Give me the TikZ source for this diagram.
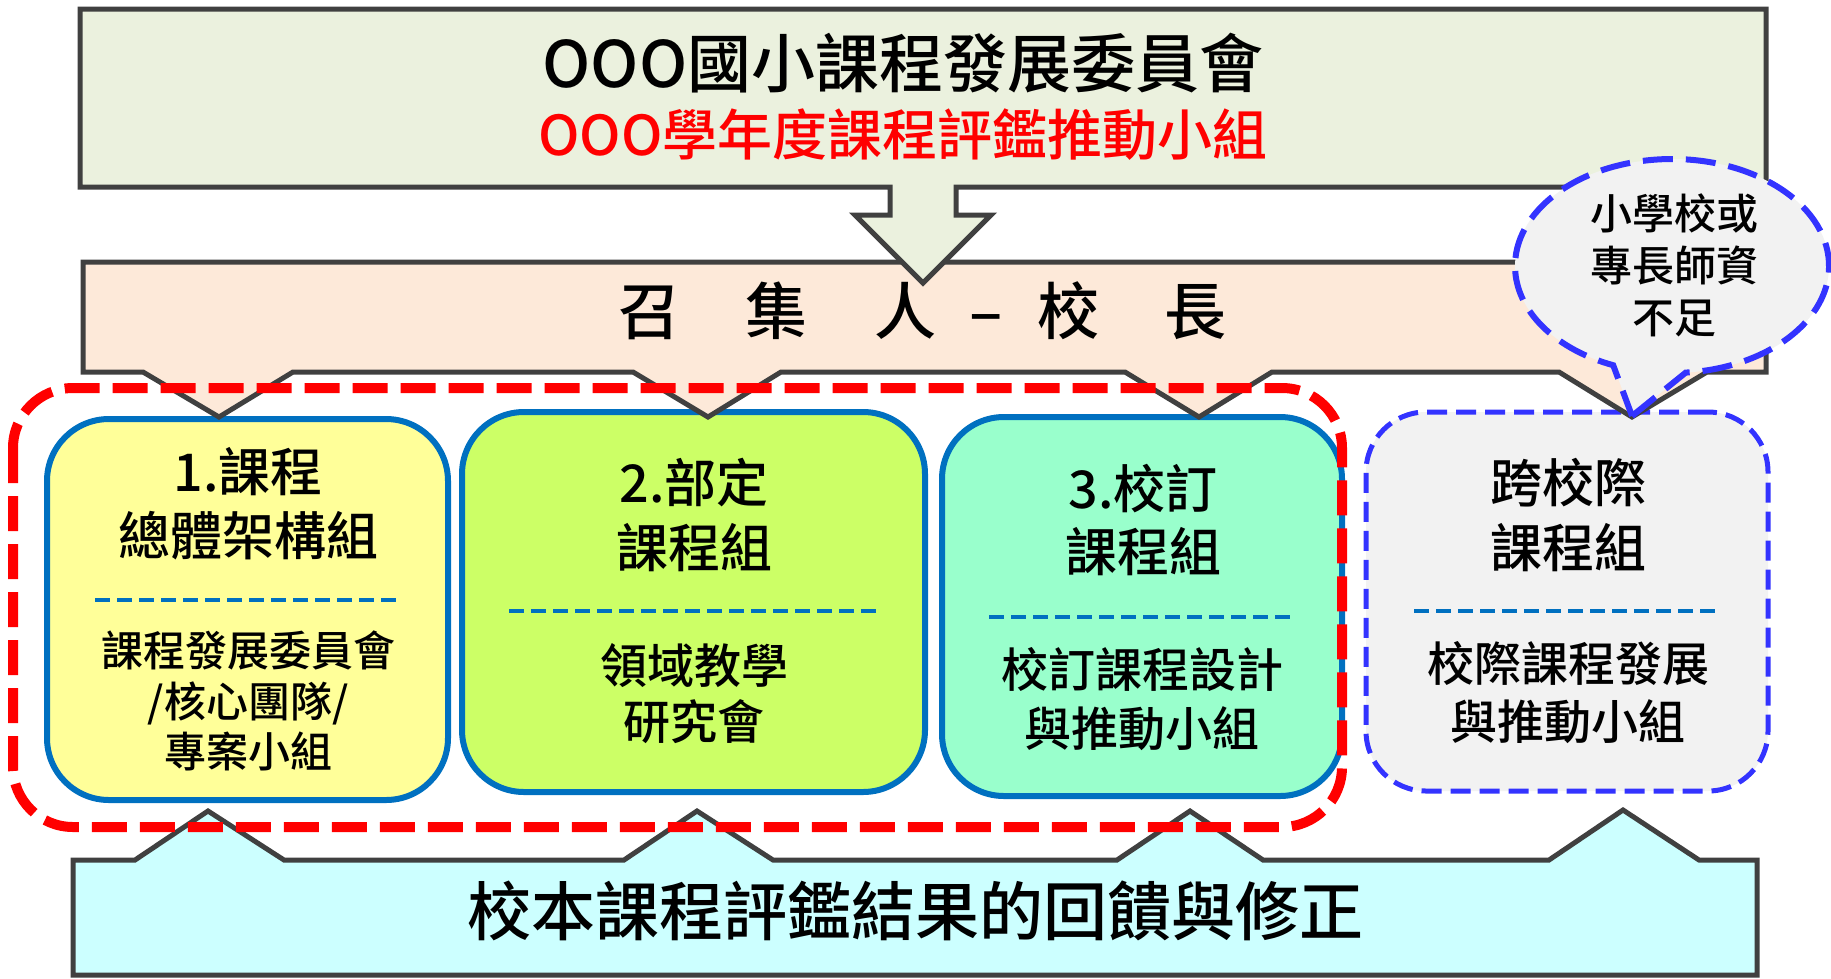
\documentclass[tikz,border=0pt]{standalone}
\usepackage{fontspec}
\setmainfont{Noto Sans CJK TC}[BoldFont={Noto Sans CJK TC Medium}]
\definecolor{fgray}{HTML}{404040}
\definecolor{topfill}{HTML}{EBF1DE}
\definecolor{peach}{HTML}{FDE9D9}
\definecolor{cyanfill}{HTML}{CCFFFF}
\definecolor{gblue}{HTML}{0070C0}
\definecolor{dblue}{HTML}{3333FF}
\definecolor{cfa}{HTML}{FFFF99}
\definecolor{cfb}{HTML}{CCFF66}
\definecolor{cfc}{HTML}{99FFCC}
\definecolor{cfd}{HTML}{F2F2F2}
\newcommand\fsz[2]{\fontsize{#1pt}{#2pt}\selectfont\bfseries}
\begin{document}
\begin{tikzpicture}[x=1pt,y=-1pt,
  frame/.style={draw=fgray,line width=5pt,line join=miter},
  grp/.style={draw=gblue,line width=6pt,rounded corners=62pt,inner sep=0pt},
  grpdash/.style={draw=dblue,line width=5pt,rounded corners=60pt,inner sep=0pt,dash pattern=on 20pt off 9pt},
  sepline/.style={draw=gblue,line width=3.5pt,dash pattern=on 15pt off 7pt},
  reddash/.style={draw=red,line width=10pt,dash pattern=on 35pt off 13pt,rounded corners=60pt},
  bubble/.style={draw=dblue,fill=cfd,line width=6pt,dash pattern=on 30pt off 13pt},
  txt/.style={inner sep=0pt,align=center}]
\useasboundingbox (0,0) rectangle (1831,978);

% group boxes
\node[grp,fill=cfa,minimum width=401pt,minimum height=381pt] (g1) at (247.5,609.5) {};
\node[grp,fill=cfb,minimum width=463pt,minimum height=380pt] (g2) at (693.5,602) {};
\node[grp,fill=cfc,minimum width=400pt,minimum height=379pt] (g3) at (1142,606.5) {};
\node[grpdash,fill=cfd,minimum width=402pt,minimum height=379pt] (g4) at (1567,601.5) {};

% separators
\draw[sepline] (95,600) -- (400,600);
\draw[sepline] (509,611) -- (878,611);
\draw[sepline] (989,617) -- (1295,617);
\draw[sepline] (1414,611) -- (1721,611);

% bottom feedback box
\draw[frame,fill=cyanfill] (73,860) -- (135,860) -- (208,811) -- (284,860)
  -- (624,860) -- (697,811) -- (773,860)
  -- (1117,860) -- (1190,811) -- (1263,860)
  -- (1549,860) -- (1623,810) -- (1699,860)
  -- (1757,860) -- (1757,975) -- (73,975) -- cycle;

% convener box
\draw[frame,fill=peach] (83,262) -- (1766,262) -- (1766,372)
  -- (1707,372) -- (1632,417) -- (1559,372)
  -- (1272,372) -- (1199,417) -- (1125,372)
  -- (781,372) -- (708,417) -- (633,372)
  -- (293,372) -- (219,417) -- (143,372)
  -- (83,372) -- cycle;

% top box with arrow
\draw[frame,fill=topfill] (80,9) -- (1766,9) -- (1766,187) -- (956,187) -- (956,215)
  -- (991,215) -- (923,283) -- (855,215) -- (890,215) -- (890,187) -- (80,187) -- cycle;

% speech bubble
\draw[bubble] (1632,416) -- (1685.7,372.6)
  arc[start angle=85,end angle=-248,x radius=157,y radius=107] -- cycle;

% red dashed frame
\draw[reddash] (13,388) rectangle (1342,827);

% texts
\node[txt,font=\fsz{64}{72}] (title) at (903,63) {OOO國小課程發展委員會};
\node[txt,font=\fsz{55}{66},text=red] (subtitle) at (903,135) {OOO學年度課程評鑑推動小組};
\node[txt,font=\fsz{62}{70}] (conv) at (922.5,311) {召\hspace{66pt}集\hspace{66pt}人\makebox[101pt]{–}校\hspace{66pt}長};
\node[txt,font=\fsz{42}{52}] (note) at (1674,265) {小學校或\\專長師資\\不足};

\node[txt,font=\fsz{52}{64}] (t1a) at (248,504) {1.課程\\總體架構組};
\node[txt,font=\fsz{42}{50.5}] (t1b) at (248,701) {課程發展委員會\\/核心團隊/\\專案小組};
\node[txt,font=\fsz{52}{65}] (t2a) at (694,515) {2.部定\\課程組};
\node[txt,font=\fsz{47}{56}] (t2b) at (694,694) {領域教學\\研究會};
\node[txt,font=\fsz{52}{63}] (t3a) at (1143,520) {3.校訂\\課程組};
\node[txt,font=\fsz{47}{59}] (t3b) at (1142,699) {校訂課程設計\\與推動小組};
\node[txt,font=\fsz{52}{65}] (t4a) at (1568,515) {跨校際\\課程組};
\node[txt,font=\fsz{47}{58}] (t4b) at (1568,693) {校際課程發展\\與推動小組};

\node[txt,font=\fsz{64}{72}] (fb) at (915,911) {校本課程評鑑結果的回饋與修正};
\end{tikzpicture}
\end{document}
